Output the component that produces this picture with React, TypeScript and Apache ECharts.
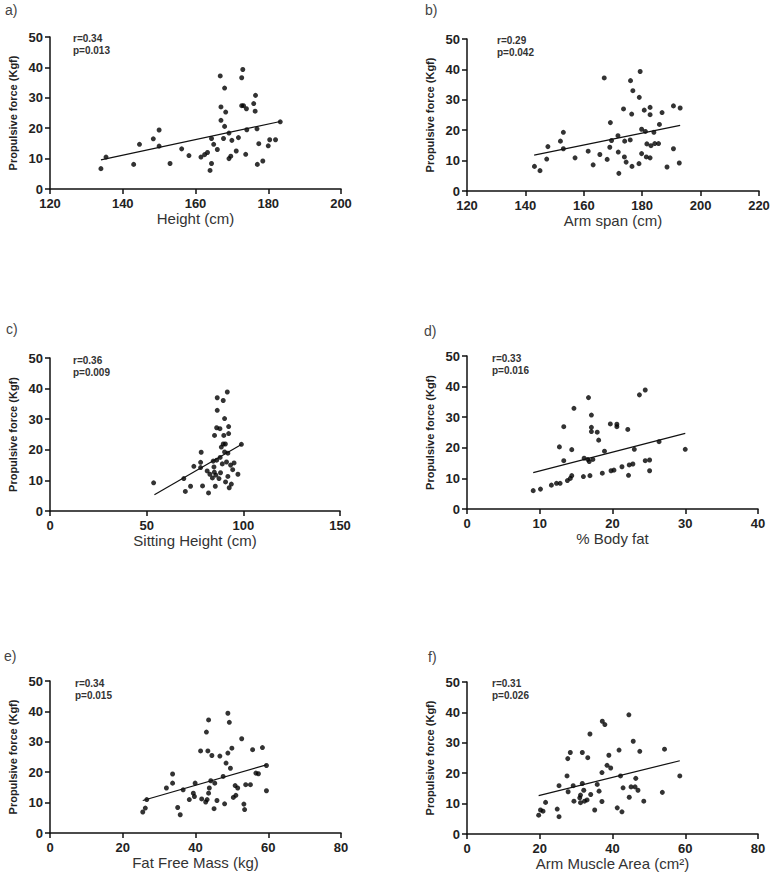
import React, { useEffect, useRef } from "react";
import * as echarts from "echarts";

// ---- data ----
const heightPts: [number, number][] = [
  [134, 6.7], [135.4, 10.5], [143, 8.1], [144.6, 14.7], [148.4, 16.5], [150, 19.4], [150, 14.1],
  [153, 8.4], [156.2, 13.2], [158.2, 11], [161.5, 10.5], [162.5, 11.3], [163.3, 12], [164, 6.1],
  [164.4, 8.4], [164.4, 16.6], [165, 14.7], [166, 13], [166.8, 37.2], [167, 27], [167, 22.6],
  [168, 33.2], [168, 20.6], [168.3, 25.3], [167.7, 16.6], [169.2, 10], [169.2, 18.4], [169.7, 10.8],
  [170, 16], [171.2, 12.5], [171.8, 16.9], [172.7, 27.4], [173, 39.3], [172.7, 36.6], [173.2, 27.4],
  [174, 26.4], [173.8, 11.4], [174.1, 19.5], [176, 28.1], [176.5, 30.8], [176.4, 25.6], [176.9, 19.8],
  [177, 8.1], [177.4, 14.9], [178.5, 9.2], [180, 14.2], [180.4, 16.2], [182, 16.2], [183.3, 22.1],
];
const heightLine: [number, number][] = [[134, 9.6], [183.3, 22.2]];

const armSpanPts: [number, number][] = [
  [143.1, 8.1], [145, 6.7], [147.3, 10.5], [147.7, 14.6], [152, 16.4], [153, 19.3], [153, 13.9],
  [157, 10.9], [161.5, 13.1], [163.2, 8.6], [165.5, 12], [168, 10.4], [167, 37.2], [169.1, 22.5],
  [168.9, 14.4], [169.5, 16.6], [171.7, 18.2], [171.8, 12.8], [172, 5.8], [173.6, 27], [173.9, 11.2],
  [174, 16.4], [174.5, 9.5], [175.9, 16.8], [176, 36.3], [176.4, 25.3], [176.5, 8.1], [176.8, 33],
  [179, 30.8], [179.3, 39.3], [178.9, 9], [179.8, 20.3], [179.8, 12.3], [180.7, 26.6], [181.1, 19.6],
  [181.4, 11.2], [181.6, 15.5], [182.7, 27.5], [182.7, 25.1], [182.7, 10.9], [183, 14.9], [184, 19.3],
  [184.3, 15.6], [185.6, 15.6], [185.9, 21.9], [186.8, 25.8], [188.5, 7.9], [190.7, 28], [190.7, 13.9],
  [192.7, 9.2], [193, 27.3],
];
const armSpanLine: [number, number][] = [[143, 11.8], [193, 21.6]];

const sittingPts: [number, number][] = [
  [53.6, 9.2], [69.2, 10.6], [70, 6.4], [72.7, 8.1], [74.4, 14.6], [77.9, 15.9], [78.2, 19.2],
  [77.9, 14.2], [78.9, 8.2], [81.3, 13.1], [82, 5.9], [82.7, 12], [84, 10.8], [84.4, 16.3],
  [84.8, 14.4], [85.1, 24.7], [85.5, 8.1], [85.8, 11.7], [86.2, 27.2], [86.2, 16.6], [86.5, 32.9],
  [86.5, 37], [87.4, 10.6], [87.9, 26.9], [88.2, 12.5], [88.6, 20.9], [89.1, 15.4], [89.6, 36.1],
  [89.6, 21.9], [89.9, 24.7], [90.3, 30.2], [90.3, 19.3], [90.8, 9.5], [91.3, 16], [91.7, 38.9],
  [92, 18.9], [92, 11.3], [92.4, 27.6], [92.4, 25.3], [92.7, 7.6], [93.4, 15], [93.8, 8.8],
  [94.5, 13.5], [95.2, 15.7], [97.2, 12], [99, 21.8], [90.7, 21.9], [85, 12.7], [88, 17.5],
];
const sittingLine: [number, number][] = [[54, 5.3], [99, 21.7]];

const bodyFatPts: [number, number][] = [
  [9.1, 6], [10.1, 6.5], [11.6, 7.8], [12.3, 8.4], [12.7, 20.3], [12.8, 8.4], [13.3, 26.9],
  [13.3, 15.8], [13.8, 9.3], [14.2, 10], [14.4, 19.4], [14.4, 10.9], [14.7, 32.9], [16, 10.6],
  [16.1, 16.6], [16.6, 16.2], [16.7, 36.4], [16.8, 15.5], [16.9, 10.9], [17.1, 30.7], [17.1, 26.7],
  [17.1, 25.3], [17.3, 16.2], [17.9, 25.1], [18.1, 22.5], [18.6, 11.7], [18.9, 18.9], [19.7, 27.8],
  [19.8, 12.5], [20.2, 12.7], [20.6, 27.7], [20.6, 26.9], [21.3, 13.8], [22.1, 26], [22.2, 11],
  [22.3, 14.4], [22.8, 14.7], [23, 19.5], [23.7, 37.3], [24.5, 38.9], [24.5, 15.8], [25.1, 16],
  [25.1, 12.5], [26.4, 22], [30, 19.5],
];
const bodyFatLine: [number, number][] = [[9.1, 11.9], [30, 24.7]];

const fatFreePts: [number, number][] = [
  [25.5, 6.9], [26.2, 8.2], [26.6, 11], [32, 14.8], [33.7, 19.4], [33.7, 16.4], [35.1, 8.4],
  [35.8, 6], [36.6, 14.2], [38.3, 11], [39.4, 13.1], [39.7, 12], [39.9, 16.4], [41.4, 27],
  [41.7, 11.2], [42.8, 10.2], [43, 33.2], [43.2, 11], [43.4, 27], [43.6, 37.2], [43.6, 13.1],
  [43.8, 14.8], [44.2, 17.2], [44.5, 25.5], [45.1, 8], [45.3, 16.4], [45.9, 10.7], [46.7, 25.3],
  [47.6, 18.6], [48, 9.6], [48.4, 23], [48.9, 39.4], [48.9, 26.3], [49.3, 36.4], [49.6, 21.3],
  [50, 27.9], [50.4, 11.7], [50.9, 15.6], [51.1, 12.4], [51.6, 14.8], [52.7, 31], [53.3, 9.5],
  [53.5, 7.7], [53.8, 15.9], [55.1, 15.9], [55.7, 27.4], [56.6, 19.7], [57.3, 19.5], [58.4, 28.1],
  [59.5, 22.2], [59.5, 13.9],
];
const fatFreeLine: [number, number][] = [[25.5, 10.7], [59.5, 22.4]];

const armMusclePts: [number, number][] = [
  [19.7, 6.2], [20.2, 7.9], [20.9, 7.5], [21.6, 10.4], [24.8, 8.2], [25.3, 5.7], [25.3, 15.9],
  [27.5, 19.1], [27.7, 24.8], [28.4, 26.8], [27.8, 13.9], [29.2, 15.9], [29.4, 10.8], [31, 11.9],
  [31.2, 12.8], [31.2, 10.3], [31.7, 26.8], [31.7, 16.6], [32.1, 14.4], [32.3, 10.8], [33, 11.2],
  [33.2, 25.1], [33.8, 32.9], [34, 13], [35.1, 7.9], [35.8, 16.3], [36.3, 14.1], [37.1, 20.2],
  [37.1, 10.7], [37.2, 37.1], [37.9, 36], [38.5, 22.6], [39, 25.9], [39.5, 21.7], [41.3, 8.6],
  [41.8, 27.6], [42.2, 19.1], [42.6, 7.3], [42.9, 15.2], [44.5, 39.2], [44.6, 12.1], [45.1, 15.5],
  [45.7, 30.5], [46.2, 15.5], [46.4, 18.3], [47, 14.4], [47.5, 27.2], [48.6, 10.8], [53.7, 13.7],
  [54.3, 27.9], [58.5, 19.1],
];
const armMuscleLine: [number, number][] = [[19.7, 12.6], [58.5, 24.1]];

const panelLabels = ["a)", "b)", "c)", "d)", "e)", "f)"];
const xNames = ["Height (cm)", "Arm span (cm)", "Sitting Height (cm)", "% Body fat", "Fat Free Mass (kg)", "Arm Muscle Area (cm²)"];
const statTexts = ["r=0.34\np=0.013", "r=0.29\np=0.042", "r=0.36\np=0.009", "r=0.33\np=0.016", "r=0.34\np=0.015", "r=0.31\np=0.026"];
const xRanges: [number, number, number][] = [[120, 200, 20], [120, 220, 20], [0, 150, 50], [0, 40, 10], [0, 80, 20], [0, 80, 20]];
const yRange: [number, number, number] = [0, 50, 10];
const yName = "Propulsive force (Kgf)";
const pointSets = [heightPts, armSpanPts, sittingPts, bodyFatPts, fatFreePts, armMusclePts];
const lineSets = [heightLine, armSpanLine, sittingLine, bodyFatLine, fatFreeLine, armMuscleLine];

// ---- layout ----
const grids = [
  { left: 50, top: 37, width: 291, height: 152 },
  { left: 467, top: 39, width: 292, height: 152 },
  { left: 50, top: 358, width: 290, height: 153 },
  { left: 467, top: 356, width: 291, height: 153 },
  { left: 50, top: 681, width: 291, height: 152 },
  { left: 467, top: 682, width: 291, height: 152 },
];
const labelPos = [[5, 3], [425, 3], [6, 322], [424, 324], [4, 649], [428, 650]];
const statPos = [[73, 32], [497, 34], [73, 354], [492, 352], [75, 677], [492, 677]];

const FONT = "Liberation Sans, Arial, sans-serif";

export default function App() {
  const ref = useRef<HTMLDivElement>(null);
  useEffect(() => {
    if (!ref.current) return;
    const chart = echarts.init(ref.current, undefined, { renderer: "svg" });
    const axisLine = { show: true, lineStyle: { color: "#111", width: 1.5 } };
    const axisTick = { show: true, length: 5, lineStyle: { color: "#111", width: 1.5 } };
    const axisLabel = { color: "#222", fontSize: 13, fontWeight: "bold" as const, fontFamily: FONT };
    const xAxis = xRanges.map((r, i) => ({
      type: "value", gridIndex: i, min: r[0], max: r[1], interval: r[2],
      name: xNames[i], nameLocation: "middle", nameGap: 16,
      nameTextStyle: { color: "#333", fontSize: 15, fontFamily: FONT, verticalAlign: "top" },
      axisLine, axisTick, axisLabel: { ...axisLabel, margin: 8 }, splitLine: { show: false },
    }));
    const yAxis = grids.map((_, i) => ({
      type: "value", gridIndex: i, min: yRange[0], max: yRange[1], interval: yRange[2],
      name: yName, nameLocation: "middle", nameGap: 32,
      nameTextStyle: { color: "#222", fontSize: 11, fontWeight: "bold", fontFamily: FONT },
      axisLine, axisTick, axisLabel: { ...axisLabel, margin: 7 }, splitLine: { show: false },
    }));
    const series: any[] = [];
    pointSets.forEach((pts, i) => {
      series.push({
        type: "scatter", xAxisIndex: i, yAxisIndex: i, data: pts,
        symbol: "circle", symbolSize: 5, itemStyle: { color: "#000" },
      });
      series.push({
        type: "line", xAxisIndex: i, yAxisIndex: i, data: lineSets[i],
        symbol: "none", lineStyle: { color: "#111", width: 1.2 },
      });
    });
    const graphic: any[] = [];
    panelLabels.forEach((t, i) => {
      graphic.push({
        type: "text", left: labelPos[i][0], top: labelPos[i][1],
        style: { text: t, fill: "#444", font: `14px ${FONT}` },
      });
      graphic.push({
        type: "text", left: statPos[i][0], top: statPos[i][1],
        style: { text: statTexts[i], fill: "#333", font: `bold 10px ${FONT}`, lineHeight: 12 },
      });
    });
    chart.setOption({
      animation: false,
      backgroundColor: "#fff",
      grid: grids.map((g) => ({ ...g, containLabel: false })),
      xAxis, yAxis, series, graphic,
    });
    return () => chart.dispose();
  }, []);
  return (
    <div ref={ref} style={{ position: "absolute", left: 0, top: 0, width: 773, height: 875 }} />
  );
}
